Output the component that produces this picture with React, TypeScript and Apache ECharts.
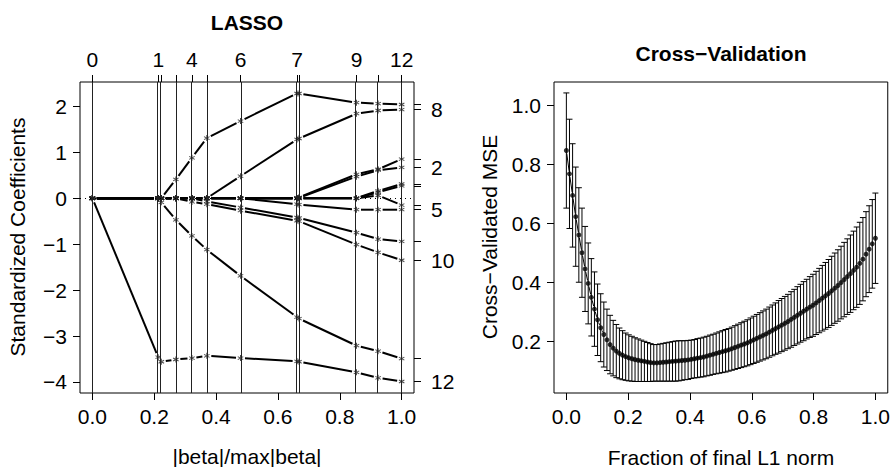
import React, { useEffect, useRef } from "react";
import * as echarts from "echarts";

// ---------- LASSO panel data ----------
const breakpoints = [0, 0.213, 0.223, 0.27, 0.322, 0.37, 0.479, 0.662, 0.668, 0.854, 0.924, 1.0];
const topTickAt = [0, 0.213, 0.322, 0.479, 0.662, 0.854, 1.0];
const topTickLabels = ["0", "1", "4", "6", "7", "9", "12"];

const varNames = ["1", "2", "3", "4", "5", "6", "7", "8", "9", "10", "11", "12"];
const coef01 = [0, 0, 0, 0, 0, 0, 0, 0, 0.02, 0.52, 0.63, 0.85];
const coef02 = [0, 0, 0, 0, 0, 0, 0, 0, 0.01, 0.47, 0.61, 0.67];
const coef03 = [0, 0, 0, 0, 0, 0, 0, 0, 0, 0, 0.16, 0.31];
const coef04 = [0, 0, 0, 0, 0, 0, 0, 0, 0, 0, 0.13, 0.27];
const coef05 = [0, 0, 0, 0, 0, 0, 0, -0.13, -0.14, -0.25, -0.25, -0.25];
const coef06 = [0, 0, 0, 0, 0, 0, 0, 0, 0, 0, 0.06, -0.15];
const coef07 = [0, 0, 0, 0.41, 0.88, 1.31, 1.68, 2.28, 2.28, 2.08, 2.06, 2.04];
const coef08 = [0, 0, 0, 0, 0, 0, 0.48, 1.28, 1.3, 1.84, 1.91, 1.93];
const coef09 = [0, 0, 0, 0, 0, -0.07, -0.2, -0.42, -0.43, -0.75, -0.89, -0.94];
const coef10 = [0, 0, 0, 0, -0.08, -0.13, -0.27, -0.49, -0.5, -1.01, -1.18, -1.35];
const coef11 = [0, 0, -0.09, -0.47, -0.82, -1.12, -1.69, -2.59, -2.62, -3.21, -3.33, -3.49];
const coef12 = [0, -3.46, -3.56, -3.51, -3.48, -3.43, -3.48, -3.55, -3.56, -3.79, -3.91, -3.99];
const rightLabelVars = ["8", "2", "5", "10", "12"];

const xTicks = [0, 0.2, 0.4, 0.6, 0.8, 1.0];
const yTicksLasso = [-4, -3, -2, -1, 0, 1, 2];

// ---------- Cross-validation panel data ----------
const cvMean = [
  0.847, 0.768, 0.695, 0.623, 0.561, 0.501, 0.446, 0.397, 0.35, 0.31,
  0.274, 0.247, 0.224, 0.206, 0.19, 0.178, 0.168, 0.16, 0.154, 0.149,
  0.145, 0.142, 0.139, 0.137, 0.135, 0.133, 0.131, 0.129, 0.128, 0.128,
  0.129, 0.13, 0.131, 0.132, 0.133, 0.134, 0.135, 0.136, 0.137, 0.138,
  0.14, 0.142, 0.144, 0.146, 0.148, 0.151, 0.154, 0.157, 0.16, 0.163,
  0.166, 0.169, 0.172, 0.176, 0.18, 0.184, 0.188, 0.192, 0.196, 0.201,
  0.206, 0.211, 0.216, 0.221, 0.226, 0.232, 0.238, 0.244, 0.25, 0.256,
  0.262, 0.268, 0.275, 0.282, 0.289, 0.296, 0.303, 0.31, 0.317, 0.323,
  0.331, 0.339, 0.347, 0.355, 0.363, 0.372, 0.381, 0.39, 0.4, 0.41,
  0.42, 0.43, 0.441, 0.452, 0.465, 0.479, 0.496, 0.513, 0.531, 0.55,
];
const cvSE = [
  0.195, 0.185, 0.175, 0.168, 0.16, 0.151, 0.144, 0.137, 0.131, 0.126,
  0.121, 0.115, 0.11, 0.104, 0.099, 0.094, 0.09, 0.086, 0.083, 0.08,
  0.078, 0.076, 0.074, 0.072, 0.07, 0.068, 0.066, 0.064, 0.062, 0.062,
  0.063, 0.064, 0.065, 0.066, 0.067, 0.068, 0.068, 0.067, 0.066, 0.066,
  0.065, 0.065, 0.066, 0.066, 0.067, 0.067, 0.068, 0.068, 0.069, 0.07,
  0.071, 0.072, 0.072, 0.073, 0.074, 0.075, 0.076, 0.077, 0.078, 0.079,
  0.08, 0.081, 0.082, 0.083, 0.084, 0.085, 0.086, 0.087, 0.089, 0.09,
  0.091, 0.092, 0.094, 0.095, 0.097, 0.098, 0.1, 0.101, 0.103, 0.105,
  0.107, 0.109, 0.111, 0.113, 0.115, 0.117, 0.119, 0.121, 0.123, 0.126,
  0.128, 0.131, 0.133, 0.136, 0.139, 0.141, 0.144, 0.147, 0.15, 0.153,
];
const cvFraction = cvMean.map((_, i) => i / (cvMean.length - 1));
const yTicksCV = [0.2, 0.4, 0.6, 0.8, 1.0];

const FONT = '"Liberation Sans", Arial, Helvetica, sans-serif';
const FS = 21;
const STAR =
  "path://M4.2 0L5.8 0L5.8 10L4.2 10Z M1.07 1.81L9.73 6.81L8.93 8.19L0.27 3.19Z M9.73 3.19L1.07 8.19L0.27 6.81L8.93 1.81Z";

const fmtNum = (v: number, digits?: number) => {
  const s = digits === undefined ? String(Math.abs(v)) : Math.abs(v).toFixed(digits);
  return (v < 0 ? "\u2212" : "") + s;
};

function segRenderer(gap: number, width: number) {
  return (_params: any, api: any) => {
    const p1 = api.coord([api.value(0), api.value(1)]);
    const p2 = api.coord([api.value(2), api.value(3)]);
    const dx = p2[0] - p1[0];
    const dy = p2[1] - p1[1];
    const len = Math.hypot(dx, dy);
    if (len <= 2 * gap + 0.5) return { type: "group", children: [] };
    const ux = dx / len;
    const uy = dy / len;
    return {
      type: "line",
      shape: {
        x1: p1[0] + ux * gap,
        y1: p1[1] + uy * gap,
        x2: p2[0] - ux * gap,
        y2: p2[1] - uy * gap,
      },
      style: { stroke: "#000", lineWidth: width },
    };
  };
}

export default function App() {
  const ref = useRef<HTMLDivElement>(null);

  useEffect(() => {
    if (!ref.current) return;
    const chart = echarts.init(ref.current, undefined, { renderer: "svg" });

    const coefs = [coef01, coef02, coef03, coef04, coef05, coef06, coef07, coef08, coef09, coef10, coef11, coef12];
    const finals = coefs.map((c) => c[c.length - 1]);
    const labelledFinals = rightLabelVars.map((n) => finals[varNames.indexOf(n)]);

    const lassoSegs: number[][] = [];
    const lassoStars: number[][] = [];
    coefs.forEach((c) => {
      for (let k = 0; k < breakpoints.length; k++) {
        lassoStars.push([breakpoints[k], c[k]]);
        if (k < breakpoints.length - 1) lassoSegs.push([breakpoints[k], c[k], breakpoints[k + 1], c[k + 1]]);
      }
    });

    const cvBars = cvFraction.map((x, i) => [x, cvMean[i] - cvSE[i], cvMean[i] + cvSE[i]]);
    const cvSegs = cvFraction.slice(0, -1).map((x, i) => [x, cvMean[i], cvFraction[i + 1], cvMean[i + 1]]);
    const cvPts = cvFraction.map((x, i) => [x, cvMean[i]]);

    const labelStyle = { fontSize: FS, color: "#000", fontFamily: FONT };
    const tick = (vals: number[]) => ({ show: true, inside: false, length: 7, customValues: vals, lineStyle: { color: "#000", width: 1 } });
    const noLine = { show: false, onZero: false };

    const option: any = {
      animation: false,
      textStyle: { fontFamily: FONT },
      grid: [
        { left: 80, top: 82, width: 334, height: 311, show: true, borderColor: "#000", borderWidth: 1, backgroundColor: "transparent" },
        { left: 554, top: 82, width: 334, height: 311, show: true, borderColor: "#000", borderWidth: 1, backgroundColor: "transparent" },
      ],
      xAxis: [
        {
          gridIndex: 0, type: "value", position: "bottom", min: -0.04, max: 1.04,
          axisLine: noLine, splitLine: { show: false },
          axisTick: tick(xTicks),
          axisLabel: { ...labelStyle, customValues: xTicks, margin: 13, formatter: (v: number) => v.toFixed(1) },
        },
        {
          gridIndex: 0, type: "value", position: "top", min: -0.04, max: 1.04,
          axisLine: noLine, splitLine: { show: false },
          axisTick: tick(breakpoints),
          axisLabel: {
            ...labelStyle, customValues: topTickAt, margin: 12,
            formatter: (v: number) => {
              const i = topTickAt.findIndex((t) => Math.abs(t - v) < 1e-6);
              return i >= 0 ? topTickLabels[i] : "";
            },
          },
        },
        {
          gridIndex: 1, type: "value", position: "bottom", min: -0.04, max: 1.04,
          axisLine: noLine, splitLine: { show: false },
          axisTick: tick(xTicks),
          axisLabel: { ...labelStyle, customValues: xTicks, margin: 13, formatter: (v: number) => v.toFixed(1) },
        },
      ],
      yAxis: [
        {
          gridIndex: 0, type: "value", position: "left", min: -4.24, max: 2.53,
          axisLine: noLine, splitLine: { show: false },
          axisTick: tick(yTicksLasso),
          axisLabel: { ...labelStyle, customValues: yTicksLasso, margin: 13, formatter: (v: number) => fmtNum(v) },
        },
        {
          gridIndex: 0, type: "value", position: "right", min: -4.24, max: 2.53,
          axisLine: noLine, splitLine: { show: false },
          axisTick: tick(finals),
          axisLabel: {
            ...labelStyle, customValues: labelledFinals, margin: 17,
            formatter: (v: number) => {
              const i = labelledFinals.findIndex((t) => Math.abs(t - v) < 1e-6);
              return i >= 0 ? rightLabelVars[i] : "";
            },
          },
        },
        {
          gridIndex: 1, type: "value", position: "left", min: 0.026, max: 1.079,
          axisLine: noLine, splitLine: { show: false },
          axisTick: tick(yTicksCV),
          axisLabel: { ...labelStyle, customValues: yTicksCV, margin: 13, formatter: (v: number) => v.toFixed(1) },
        },
      ],
      series: [
        {
          type: "custom", xAxisIndex: 0, yAxisIndex: 0, z: 3,
          data: lassoSegs, encode: { x: [0, 2], y: [1, 3] },
          renderItem: segRenderer(4.5, 2), silent: true,
        },
        {
          type: "scatter", xAxisIndex: 0, yAxisIndex: 0, z: 4, silent: true,
          symbol: STAR, symbolSize: 6, itemStyle: { color: "#222" },
          data: lassoStars,
          markLine: {
            silent: true, symbol: ["none", "none"], label: { show: false },
            lineStyle: { color: "#222", width: 1, type: "solid" },
            data: [
              ...breakpoints.map((b) => ({ xAxis: b })),
              { yAxis: 0, lineStyle: { color: "#000", width: 1, type: [1, 4] } },
            ],
          },
        },
        {
          type: "custom", xAxisIndex: 2, yAxisIndex: 2, z: 3, silent: true,
          data: cvBars, encode: { x: 0, y: [1, 2] },
          renderItem: (_p: any, api: any) => {
            const top = api.coord([api.value(0), api.value(2)]);
            const bot = api.coord([api.value(0), api.value(1)]);
            const h = 3;
            const st = { stroke: "#000", lineWidth: 1 };
            return {
              type: "group",
              children: [
                { type: "line", shape: { x1: top[0], y1: top[1], x2: bot[0], y2: bot[1] }, style: st },
                { type: "line", shape: { x1: top[0] - h, y1: top[1], x2: top[0] + h, y2: top[1] }, style: st },
                { type: "line", shape: { x1: bot[0] - h, y1: bot[1], x2: bot[0] + h, y2: bot[1] }, style: st },
              ],
            };
          },
        },
        {
          type: "custom", xAxisIndex: 2, yAxisIndex: 2, z: 3, silent: true,
          data: cvSegs, encode: { x: [0, 2], y: [1, 3] },
          renderItem: segRenderer(3, 1),
        },
        {
          type: "scatter", xAxisIndex: 2, yAxisIndex: 2, z: 4, silent: true,
          symbol: "circle", symbolSize: 5, itemStyle: { color: "#000" },
          data: cvPts,
        },
      ],
      graphic: [
        { type: "text", x: 247, y: 22, style: { text: "LASSO", font: `bold ${FS}px ${FONT}`, fill: "#000", align: "center", verticalAlign: "middle", textAlign: "center", textVerticalAlign: "middle" } },
        { type: "text", x: 721, y: 53, style: { text: "Cross\u2212Validation", font: `bold ${FS}px ${FONT}`, fill: "#000", align: "center", verticalAlign: "middle", textAlign: "center", textVerticalAlign: "middle" } },
        { type: "text", x: 17, y: 237, rotation: Math.PI / 2, style: { text: "Standardized Coefficients", font: `${FS}px ${FONT}`, fill: "#000", align: "center", verticalAlign: "middle", textAlign: "center", textVerticalAlign: "middle" } },
        { type: "text", x: 247, y: 456, style: { text: "|beta|/max|beta|", font: `${FS}px ${FONT}`, fill: "#000", align: "center", verticalAlign: "middle", textAlign: "center", textVerticalAlign: "middle" } },
        { type: "text", x: 489, y: 237, rotation: Math.PI / 2, style: { text: "Cross\u2212Validated MSE", font: `${FS}px ${FONT}`, fill: "#000", align: "center", verticalAlign: "middle", textAlign: "center", textVerticalAlign: "middle" } },
        { type: "text", x: 721, y: 457, style: { text: "Fraction of final L1 norm", font: `${FS}px ${FONT}`, fill: "#000", align: "center", verticalAlign: "middle", textAlign: "center", textVerticalAlign: "middle" } },
      ],
    };

    chart.setOption(option);
    return () => chart.dispose();
  }, []);

  return (
    <div
      ref={ref}
      style={{ position: "fixed", left: 0, top: 0, width: 893, height: 467, background: "#fff" }}
    />
  );
}
